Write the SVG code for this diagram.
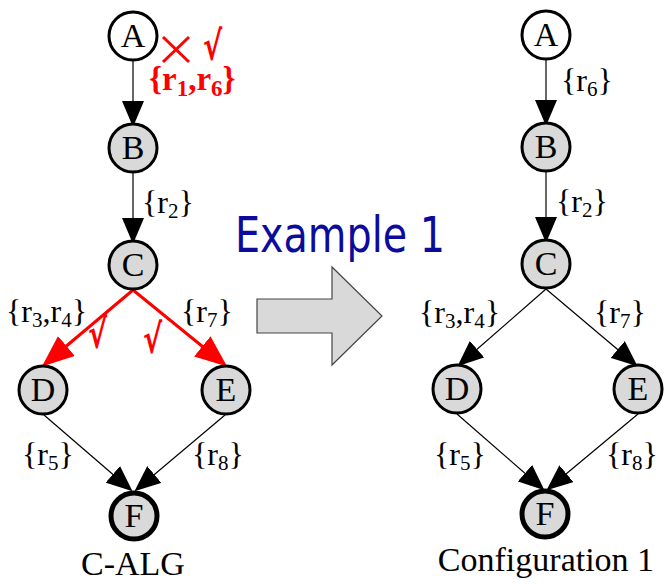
<svg xmlns="http://www.w3.org/2000/svg" width="664" height="584" viewBox="0 0 664 584">
<style>
.n{fill:#d9d9d9;stroke:#000;stroke-width:3}
.a{fill:#fff;stroke:#000;stroke-width:3}
.f{fill:#d9d9d9;stroke:#000;stroke-width:5}
.t{font-family:"Liberation Serif","Times New Roman",serif;font-size:34px;text-anchor:middle;fill:#000}
.l{font-family:"Liberation Serif","Times New Roman",serif;font-size:32px;fill:#000}
.s{font-size:21px}
.e{fill:none;stroke:#000;stroke-width:1.2;marker-end:url(#ah)}
.r{fill:none;stroke:#f00;stroke-width:3;marker-end:url(#rh)}
.ck{font-family:"DejaVu Sans",sans-serif;font-weight:bold;font-size:40px;fill:#f00}
.cap{font-family:"Liberation Serif","Times New Roman",serif;font-size:34px;text-anchor:middle;fill:#000}
</style>
<defs>
<marker id="ah" markerUnits="userSpaceOnUse" markerWidth="26" markerHeight="22" refX="24" refY="11" orient="auto" viewBox="0 0 26 22">
<path d="M0,0 L26,11 L0,22 z" fill="#000"/>
</marker>
<marker id="rh" markerUnits="userSpaceOnUse" markerWidth="32" markerHeight="26" refX="28" refY="13" orient="auto" viewBox="0 0 32 26">
<path d="M0,0 L32,13 L0,26 z" fill="#f00"/>
</marker>
</defs>

<g id="connectors">
<path class="e" d="M133,61 L133,125"/>
<path class="e" d="M133,173 L133,242"/>
<path class="r" d="M133,290 L45,364"/>
<path class="r" d="M133,290 L224,364"/>
<path class="e" d="M44,415 L131,490"/>
<path class="e" d="M225,415 L136,490"/>
<path class="e" d="M546,60 L546,124"/>
<path class="e" d="M546,172 L546,241"/>
<path class="e" d="M546,289 L459,365"/>
<path class="e" d="M546,289 L636,365"/>
<path class="e" d="M457,414 L543,489"/>
<path class="e" d="M638,414 L548,489"/>
</g>

<g id="labels">
<text class="l" x="142" y="213">{r<tspan class="s" dy="5">2</tspan><tspan dy="-5">}</tspan></text>
<text class="l" x="6" y="322">{r<tspan class="s" dy="5">3</tspan><tspan dy="-5">,r</tspan><tspan class="s" dy="5">4</tspan><tspan dy="-5">}</tspan></text>
<text class="l" x="181" y="322">{r<tspan class="s" dy="5">7</tspan><tspan dy="-5">}</tspan></text>
<text class="l" x="22" y="465">{r<tspan class="s" dy="5">5</tspan><tspan dy="-5">}</tspan></text>
<text class="l" x="192" y="465">{r<tspan class="s" dy="5">8</tspan><tspan dy="-5">}</tspan></text>
<text class="l" x="561" y="91">{r<tspan class="s" dy="5">6</tspan><tspan dy="-5">}</tspan></text>
<text class="l" x="556" y="212">{r<tspan class="s" dy="5">2</tspan><tspan dy="-5">}</tspan></text>
<text class="l" x="419" y="323">{r<tspan class="s" dy="5">3</tspan><tspan dy="-5">,r</tspan><tspan class="s" dy="5">4</tspan><tspan dy="-5">}</tspan></text>
<text class="l" x="594" y="323">{r<tspan class="s" dy="5">7</tspan><tspan dy="-5">}</tspan></text>
<text class="l" x="434" y="465">{r<tspan class="s" dy="5">5</tspan><tspan dy="-5">}</tspan></text>
<text class="l" x="606" y="465">{r<tspan class="s" dy="5">8</tspan><tspan dy="-5">}</tspan></text>
</g>

<g id="annotations">
<text x="149" y="90" style="font-family:'Liberation Serif',serif;font-weight:bold;font-size:33px;fill:#f00">{r<tspan style="font-size:23px" dy="6">1</tspan><tspan dy="-6">,r</tspan><tspan style="font-size:23px" dy="6">6</tspan><tspan dy="-6">}</tspan></text>
<path d="M163,37 L189,62 M189,37 L163,62" stroke="#f00" stroke-width="3" fill="none"/>
<text class="ck" transform="translate(203,60) scale(0.72,1)">√</text>
<text class="ck" transform="translate(88,348) scale(0.72,1)">√</text>
<text class="ck" transform="translate(143,353) scale(0.72,1)">√</text>
</g>

<g id="left-A"><circle class="a" cx="133" cy="36" r="24"/><text class="t" x="133" y="47">A</text></g>
<g id="left-B"><circle class="n" cx="133" cy="148" r="24"/><text class="t" x="133" y="159">B</text></g>
<g id="left-C"><circle class="n" cx="133" cy="265" r="24"/><text class="t" x="133" y="276">C</text></g>
<g id="left-D"><circle class="n" cx="43" cy="390" r="24"/><text class="t" x="43" y="401">D</text></g>
<g id="left-E"><circle class="n" cx="226" cy="390" r="24"/><text class="t" x="226" y="401">E</text></g>
<g id="left-F"><circle class="f" cx="134" cy="516" r="23"/><text class="t" x="134" y="527">F</text></g>

<g id="right-A"><circle class="a" cx="546" cy="35" r="24"/><text class="t" x="546" y="46">A</text></g>
<g id="right-B"><circle class="n" cx="546" cy="147" r="24"/><text class="t" x="546" y="158">B</text></g>
<g id="right-C"><circle class="n" cx="546" cy="264" r="24"/><text class="t" x="546" y="275">C</text></g>
<g id="right-D"><circle class="n" cx="457" cy="389" r="24"/><text class="t" x="457" y="400">D</text></g>
<g id="right-E"><circle class="n" cx="638" cy="389" r="24"/><text class="t" x="638" y="400">E</text></g>
<g id="right-F"><circle class="f" cx="545" cy="514" r="23"/><text class="t" x="545" y="525">F</text></g>

<g id="transform-arrow">
<polygon points="257,299 332,299 332,267 382,316 332,365 332,333 257,333" fill="#d9d9d9" stroke="#444" stroke-width="1.2"/>
</g>
<text x="235" y="252" textLength="210" lengthAdjust="spacingAndGlyphs" style="font-family:'DejaVu Sans',sans-serif;font-size:50px;fill:#0c0c9c">Example 1</text>
<text class="cap" x="133" y="575">C-ALG</text>
<text class="cap" x="546" y="571">Configuration 1</text>
</svg>
